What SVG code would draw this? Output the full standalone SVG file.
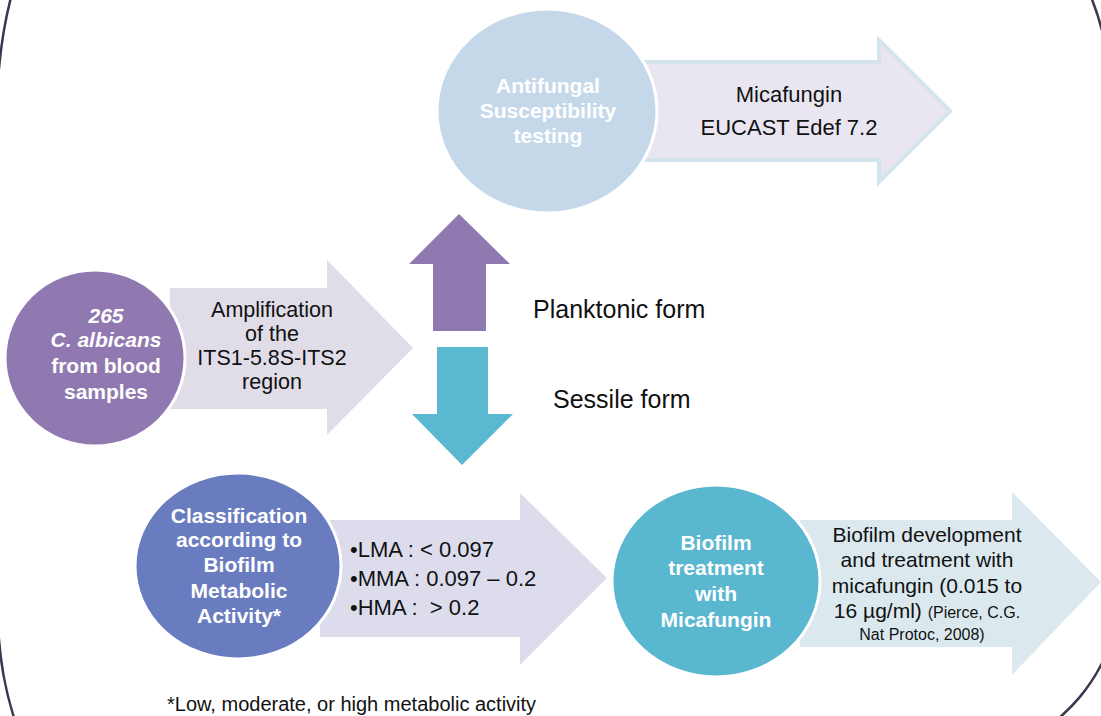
<svg xmlns="http://www.w3.org/2000/svg" width="1101" height="716" viewBox="0 0 1101 716">
<style>
  .t { font-family: "Liberation Sans", Arial, sans-serif; fill: #111; }
  .w { font-family: "Liberation Sans", Arial, sans-serif; font-weight: bold; fill: #ffffff; }
  .c { text-anchor: middle; }
  .circ { stroke: #ffffff; stroke-width: 3; }
</style>
<rect width="1101" height="716" fill="#ffffff"/>
<path id="frame" d="M 13,-10 C 6,15 1,40 -3,90 L -3,600 C -2,660 6,695 18,730 L 1045,730 C 1070,710 1090,690 1106,655 L 1106,50 C 1102,25 1096,8 1088,-10" fill="none" stroke="#3f3550" stroke-width="2.5"/>

<g id="connectors">
  <path id="arrow-up" d="M 433,331 L 433,264 L 409,264 L 459,214 L 510,264 L 486,264 L 486,331 Z" fill="#8f79b0"/>
  <path id="arrow-down" d="M 437,347 L 488,347 L 488,414 L 513,414 L 462,465 L 412,414 L 437,414 Z" fill="#5bb8d1"/>
</g>

<g id="arrow-amplification">
  <path d="M 170,288 L 327,288 L 327,260 L 413,348 L 327,435 L 327,409 L 170,409 Z" fill="#e0dde8"/>
  <text class="t c" font-size="21.5"><tspan x="272" y="317">Amplification</tspan><tspan x="272" y="341">of the</tspan><tspan x="272" y="365">ITS1-5.8S-ITS2</tspan><tspan x="272" y="389">region</tspan></text>
</g>

<g id="arrow-micafungin">
  <path d="M 640,62 L 879,62 L 879,40 L 950,111 L 879,182 L 879,160 L 640,160 Z" fill="#e9e6f1" stroke="#d3e4ec" stroke-width="4"/>
  <text class="t c" font-size="22"><tspan x="789" y="102">Micafungin</tspan><tspan x="789" y="135">EUCAST Edef 7.2</tspan></text>
</g>

<g id="arrow-classes">
  <path d="M 320,520 L 520,520 L 520,493 L 607,578 L 520,665 L 520,637 L 320,637 Z" fill="#dcdced"/>
  <text class="t" font-size="22"><tspan x="350" y="557">•LMA : &lt; 0.097</tspan><tspan x="350" y="586">•MMA : 0.097 – 0.2</tspan><tspan x="350" y="615">•HMA : &#160;&gt; 0.2</tspan></text>
</g>

<g id="arrow-biofilm">
  <path d="M 800,520 L 1012,520 L 1012,492 L 1101,582 L 1012,675 L 1012,647 L 800,647 Z" fill="#dbe9ef"/>
  <text class="t c" font-size="21"><tspan x="927" y="542">Biofilm development</tspan><tspan x="927" y="567">and treatment with</tspan><tspan x="927" y="593">micafungin (0.015 to</tspan><tspan x="927" y="618">16 µg/ml) <tspan font-size="16">(Pierce, C.G.</tspan></tspan><tspan x="922" y="640" font-size="16">Nat Protoc, 2008)</tspan></text>
</g>

<g id="node-samples">
  <ellipse class="circ" cx="95" cy="358" rx="90" ry="88" fill="#9079b0"/>
  <text class="w c" font-size="21"><tspan x="106" y="323" font-style="italic">265</tspan><tspan x="106" y="347" font-style="italic">C. albicans</tspan><tspan x="106" y="373">from blood</tspan><tspan x="106" y="399">samples</tspan></text>
</g>

<g id="node-antifungal">
  <ellipse class="circ" cx="547" cy="111" rx="110" ry="102" fill="#c5d8ea"/>
  <text class="w c" font-size="21" fill="#f4f8fc"><tspan x="548" y="93">Antifungal</tspan><tspan x="548" y="118">Susceptibility</tspan><tspan x="548" y="143">testing</tspan></text>
</g>

<g id="node-classification">
  <ellipse class="circ" cx="238" cy="566" rx="103" ry="93" fill="#6a7cc0"/>
  <text class="w c" font-size="21"><tspan x="239" y="523">Classification</tspan><tspan x="239" y="547">according to</tspan><tspan x="239" y="572">Biofilm</tspan><tspan x="239" y="598">Metabolic</tspan><tspan x="239" y="623">Activity*</tspan></text>
</g>

<g id="node-treatment">
  <ellipse class="circ" cx="716" cy="581" rx="104" ry="96" fill="#59b7cf"/>
  <text class="w c" font-size="21"><tspan x="716" y="550">Biofilm</tspan><tspan x="716" y="575">treatment</tspan><tspan x="716" y="601">with</tspan><tspan x="716" y="627">Micafungin</tspan></text>
</g>

<text class="t" font-size="25" x="533" y="318">Planktonic form</text>
<text class="t" font-size="25" x="553" y="408">Sessile form</text>
<text class="t" font-size="20" x="167" y="711">*Low, moderate, or high metabolic activity</text>
</svg>
